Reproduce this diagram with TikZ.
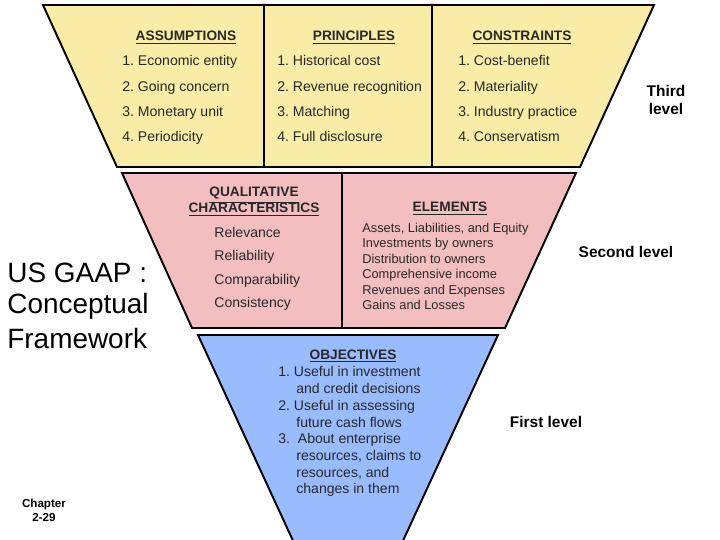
\documentclass[tikz,border=0pt]{standalone}
\usepackage{fontspec}
\setmainfont{Liberation Sans}
\usepackage{xcolor}
\usetikzlibrary{positioning}
\frenchspacing
\definecolor{tierYellow}{RGB}{248,236,166}
\definecolor{tierPink}{RGB}{243,190,192}
\definecolor{tierBlue}{RGB}{153,187,255}
\definecolor{textGray}{RGB}{40,40,40}
\tikzset{
  tier/.style={draw=black, line width=1.1pt, line join=miter},
  head/.style={font=\fontsize{7.8}{9}\selectfont\bfseries, text=textGray, anchor=base, inner sep=0pt},
  item/.style={font=\fontsize{8}{9.5}\selectfont, text=textGray, anchor=base west, inner sep=0pt},
  elem/.style={font=\fontsize{7.3}{8.5}\selectfont, text=textGray, anchor=base west, inner sep=0pt},
  level/.style={font=\fontsize{8.8}{10.5}\selectfont\bfseries, anchor=base, inner sep=0pt},
}

\begin{document}
\begin{tikzpicture}[x=0.02cm, y=-0.02cm]
    \useasboundingbox (0,0) rectangle (720,540);

    % Third level
    \filldraw[tier, fill=tierYellow] (43,5) -- (654,5) -- (580,167) -- (117,167) -- cycle;
    \draw[tier] (264,5) -- (264,167);
    \draw[tier] (432,5) -- (432,167);
    \node[head] (assum) at (186,41) {\underline{ASSUMPTIONS}};
    \node[head] (princ) at (354,41) {\underline{PRINCIPLES}};
    \node[head] (constr) at (522,41) {\underline{CONSTRAINTS}};
    \node[item] (assum1) at (122,66) {1. Economic entity};
    \node[item] (assum2) at (122,92) {2. Going concern};
    \node[item] (assum3) at (122,117) {3. Monetary unit};
    \node[item] (assum4) at (122,142) {4. Periodicity};
    \node[item] (princ1) at (277,66) {1. Historical cost};
    \node[item] (princ2) at (277,92) {2. Revenue recognition};
    \node[item] (princ3) at (277,117) {3. Matching};
    \node[item] (princ4) at (277,142) {4. Full disclosure};
    \node[item] (constr1) at (458,66) {1. Cost-benefit};
    \node[item] (constr2) at (458,92) {2. Materiality};
    \node[item] (constr3) at (458,117) {3. Industry practice};
    \node[item] (constr4) at (458,142) {4. Conservatism};

    % Second level
    \filldraw[tier, fill=tierPink] (122,173) -- (576,173) -- (505,328) -- (192,328) -- cycle;
    \draw[tier] (342,173) -- (342,328);
    \node[head] (qual) at (254,197) {\underline{QUALITATIVE}};
    \node[head] (charact) at (254,213) {\underline{CHARACTERISTICS}};
    \node[item] (qual1) at (214,238) {Relevance};
    \node[item] (qual2) at (214,261) {Reliability};
    \node[item] (qual3) at (214,285) {Comparability};
    \node[item] (qual4) at (214,308) {Consistency};
    \node[head] (elem) at (450,212) {\underline{ELEMENTS}};
    \node[elem] (elem1) at (362,233) {Assets, Liabilities, and Equity};
    \node[elem] (elem2) at (362,248) {Investments by owners};
    \node[elem] (elem3) at (362,264) {Distribution to owners};
    \node[elem] (elem4) at (362,279) {Comprehensive income};
    \node[elem] (elem5) at (362,295) {Revenues and Expenses};
    \node[elem] (elem6) at (362,310) {Gains and Losses};

    % First level
    \fill[tierBlue] (295,545) -- (198,335) -- (498,335) -- (401,545) -- cycle;
    \draw[tier] (295,545) -- (198,335) -- (498,335) -- (401,545);
    \node[head] (obj) at (353,359) {\underline{OBJECTIVES}};
    \node[item] (obj1) at (278,377) {1. Useful in investment};
    \node[item] (obj1b) at (296,393.7) {and credit decisions};
    \node[item] (obj2) at (278,410.4) {2. Useful in assessing};
    \node[item] (obj2b) at (296,427.1) {future cash flows};
    \node[item] (obj3) at (278,443.8) {3.\ \ About enterprise};
    \node[item] (obj3b) at (296,460.5) {resources, claims to};
    \node[item] (obj3c) at (296,477.2) {resources, and};
    \node[item] (obj3d) at (296,493.9) {changes in them};

    % Titles and levels
    \node[anchor=base west, inner sep=0pt, font=\fontsize{15.9}{18.7}\selectfont] (title1) at (7,283) {US GAAP :};
    \node[anchor=base west, inner sep=0pt, font=\fontsize{15.9}{18.7}\selectfont] (title2) at (7,314) {Conceptual};
    \node[anchor=base west, inner sep=0pt, font=\fontsize{15.9}{18.7}\selectfont] (title3) at (7,349) {Framework};
    \node[anchor=base, inner sep=0pt, font=\fontsize{6.6}{8}\selectfont\bfseries] (chap) at (44,507) {Chapter};
    \node[anchor=base, inner sep=0pt, font=\fontsize{6.6}{8}\selectfont\bfseries] (chapnum) at (44,521) {2-29};
    \node[level] (third) at (666,97) {Third};
    \node[level] (thirdb) at (666,115) {level};
    \node[level] (second) at (626,258) {Second level};
    \node[level] (first) at (546,427) {First level};
\end{tikzpicture}
\end{document}
